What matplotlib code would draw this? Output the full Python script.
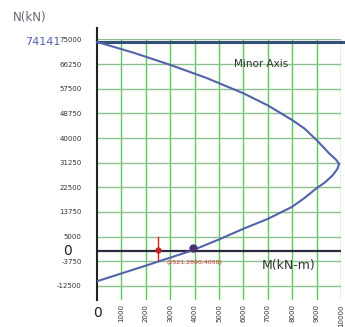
import matplotlib
matplotlib.use("Agg")
import matplotlib.pyplot as plt

# interaction curve (minor axis)
moment = [0, 1500, 3000, 4500, 6000, 7000, 8000, 8500, 9000, 9500, 9800, 9920,
          9850, 9650, 9350, 9000, 8500, 8000, 7000, 6000, 5000, 3870, 2000, 0]
axial = [74141, 70300, 66000, 61300, 55900, 51600, 46400, 43400, 39300, 34700, 32300, 30800,
         29000, 26700, 24300, 22200, 18700, 15600, 11300, 7800, 4000, 0, -5300, -10850]
n_max = 74141

y_ticks = [75000, 66250, 57500, 48750, 40000, 31250, 22500, 13750, 5000, -3750, -12500]
x_ticks = [1000, 2000, 3000, 4000, 5000, 6000, 7000, 8000, 9000, 10000]

load_pt = (2500, 300)
cap_pt = (3950, 900)

fig = plt.figure(figsize=(3.45, 3.27), dpi=100)
ax = fig.add_axes([97 / 345, 27 / 327, 244 / 345, 260.5 / 327])
ax.set_xlim(0, 10000)
ax.set_ylim(-17500, n_max)

for x in x_ticks:
    ax.axvline(x, color="#5cc85c", lw=1.0, zorder=1)
for y in y_ticks:
    ax.axhline(y, color="#8cc08c", lw=1.0, zorder=1)

ax.axhline(0, color="#2a2a40", lw=1.6, zorder=2)
ax.plot([0, 10400], [n_max, n_max], color="#34507a", lw=2.2, zorder=3, clip_on=False)

ax.plot(moment, axial, color="#5462aa", lw=1.5, zorder=4)

ax.plot([load_pt[0], load_pt[0]], [5000, -3200], color="#cc2020", lw=1.0, zorder=5)
ax.plot(*load_pt, marker="o", ms=3.5, color="#cc2020", zorder=5)
ax.plot(*cap_pt, marker="o", ms=5, color="#4a3070", zorder=5)
ax.text(2860, -4100, "(2521,2890,4058)", color="#d03030", fontsize=4.5,
        va="center", ha="left", zorder=6)

for s in ["top", "right", "bottom"]:
    ax.spines[s].set_visible(False)
ax.spines["left"].set_linewidth(1.5)
ax.spines["left"].set_color("#222222")
ax.plot([0, 0], [n_max, 79000], color="#222222", lw=1.5, clip_on=False)

ax.set_yticks(y_ticks)
ax.set_yticklabels([str(v) for v in y_ticks], fontsize=5, color="#333333")
ax.set_xticks(x_ticks)
ax.set_xticklabels([str(v) for v in x_ticks], fontsize=5, color="#333333", rotation=90)
ax.tick_params(axis="y", length=0, pad=11)
ax.tick_params(axis="x", length=0, pad=3)

ax.text(6750, -5200, "M(kN-m)", fontsize=9, color="#333333", va="center", ha="left")
ax.text(5600, 66250, "Minor Axis", fontsize=7.5, color="#333333", va="center", ha="left")

fig.text(13 / 345, 1 - 18 / 327, "N(kN)", fontsize=8.5, color="#666677", va="center", ha="left")
fig.text(25 / 345, 1 - 42 / 327, "74141", fontsize=8, color="#5060b0", va="center", ha="left")
fig.text(68 / 345, 1 - 251 / 327, "0", fontsize=10, color="#222222", va="center", ha="center")
fig.text(97 / 345, 1 - 313 / 327, "0", fontsize=10, color="#222222", va="center", ha="center")

fig.savefig("out.png", dpi=100)
